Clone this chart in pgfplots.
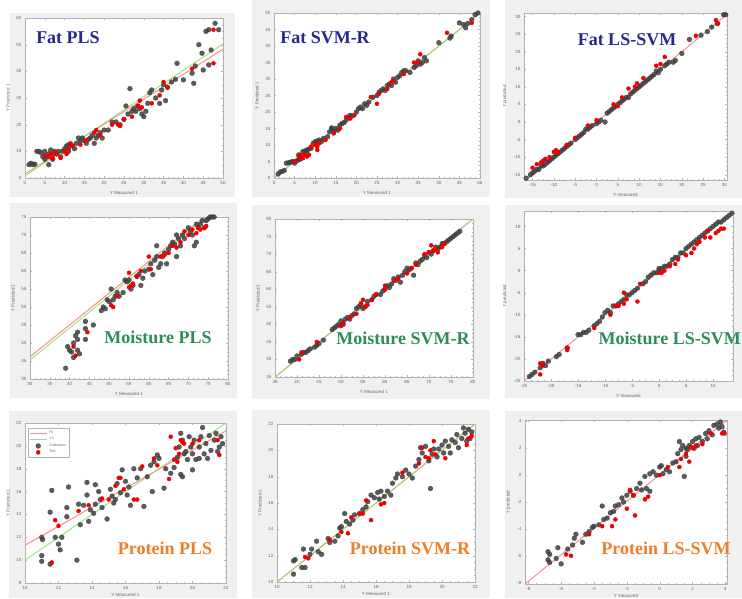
\documentclass[border=0pt]{standalone}
\usepackage{pgfplots}
\pgfplotsset{compat=1.18}
\usepackage{fontspec}
\setmainfont{Liberation Sans}
\newfontfamily\titlefont{Liberation Serif}
\definecolor{fitred}{RGB}{255,140,140}
\definecolor{onegreen}{RGB}{140,225,110}
\definecolor{calib}{RGB}{64,64,64}
\definecolor{testred}{RGB}{240,0,0}
\definecolor{figbg}{RGB}{240,240,240}
\definecolor{tblue}{RGB}{38,40,145}
\definecolor{tgreen}{RGB}{46,140,90}
\definecolor{torange}{RGB}{240,125,40}

\pgfplotsset{
  mat/.style={
    scale only axis, anchor=south west,
    axis background/.style={fill=white},
    axis line style={gray!60, line width=0.4pt},
    tick style={gray!60, line width=0.3pt},
    tick align=inside, major tick length=2pt, minor tick length=1pt,
    minor tick num=3,
    ticklabel style={font=\fontsize{4.5}{5}\selectfont, text=black!60},
    label style={font=\fontsize{4.5}{5}\selectfont, text=black!60},
    /pgf/number format/assume math mode=true,
    scaled ticks=false,
  },
  lowrow/.style={xlabel style={yshift=3pt}},
  fitline/.style={fitred, line width=1pt, no marks},
  oneline/.style={onegreen, line width=1pt, no marks, opacity=0.85},
  cal/.style={only marks, mark=*, mark size=2.4pt, calib, opacity=0.85},
  tst/.style={only marks, mark=*, mark size=2pt, testred},
}
\tikzset{ttl/.style={font=\titlefont\bfseries\fontsize{18}{20}\selectfont}}

\begin{document}
\begin{tikzpicture}[x=1pt,y=1pt]
\useasboundingbox (0,0) rectangle (742,598);
\clip (0,0) rectangle (742,598);
% figure window backgrounds
\fill[figbg] (10,401) rectangle (235,585);
\fill[figbg] (252,401) rectangle (490,598);
\fill[figbg] (505,400) rectangle (742,598);
\fill[figbg] (10,200) rectangle (237,395);
\fill[figbg] (252,199) rectangle (490,393);
\fill[figbg] (505,200) rectangle (742,393);
\fill[figbg] (9,0) rectangle (237,187);
\fill[figbg] (252,0) rectangle (490,188);
\fill[figbg] (505,0) rectangle (742,187);

% ---------- Fat PLS ----------
\begin{axis}[mat, at={(25pt,420pt)}, width=198pt, height=160pt,
  xmin=0, xmax=50, ymin=0, ymax=60, xtick={0,5,...,50}, ytick={0,10,...,60},
  xlabel={Y Measured 1}, ylabel={Y Predicted 1}]
\addplot[fitline] coordinates {(0,1.5) (50,48.3)};
\addplot[oneline] coordinates {(0,0.8) (50,50.3)};
\addplot[cal] coordinates {
(1,5)(1.5,5.5)(2,5)(2.5,5.2)(3,10)(3.5,10)(4,9.5)(4.5,8)(5,7)(5,10)(5.5,8)(6,5)(6,9)(6.5,10.5)
(7,9)(7,7)(7.5,10)(8,9)(8.5,10)(9,8)(9.5,10)(10,11)(10.5,12)(11,10)(11,12.5)(12,12)(12.5,11)
(13,13)(13.5,15)(14,14)(14.5,15)(15,14)(15.5,13)(16,14.5)(16.5,15)(17,16)(17.5,13)(18,15)
(18.5,16)(19,17)(19.5,15)(20,18)(21,18)(22,21)(23,21)(24,20)(25,22)(25.5,27)(26,24)(26.5,33.5)
(27,25)(27.5,26)(28,25)(28.5,27)(29,26)(29.5,24)(30,23)(30.5,25)(31,28)(31.5,32)(32,33)(33,30)
(34,28)(34.5,33)(35,35)(35.5,29)(36,34)(37,36)(38,37)(38.4,43)(40,36.8)(42.2,39.3)(42.6,35.5)
(43,42)(43.9,50)(44.7,46.8)(45,40.5)(45.7,55)(46.4,42.4)(46.4,55.6)(47,48)(48,58)(48.9,55.6)};
\addplot[tst] coordinates {
(5,8.5)(6,8)(6.5,9)(7,7.5)(7.5,9.5)(8,9)(9,7.5)(10,10)(10.5,9)(11,11)(11.5,13)(12,12)(14,12.5)
(15.5,14)(17.5,17)(18,18)(19,16)(22,20)(23.5,20)(24,19.5)(25,22)(27,23)(28.5,27)(29,29)
(29.5,26.5)(32,28)(34,31)(35,36)(36,34)(42.2,41)(47.6,43)(47.6,55.6)};
\end{axis}

% ---------- Fat SVM-R ----------
\begin{axis}[mat, at={(274pt,420pt)}, width=206pt, height=165pt,
  xmin=0, xmax=50, ymin=0, ymax=50, xtick={0,5,...,50}, ytick={0,5,...,50},
  xlabel={Y Measured 1}, ylabel={Y Predicted 1}]
\addplot[fitline] coordinates {(0,0) (50,50)};
\addplot[oneline] coordinates {(0,0) (50,50)};
\addplot[cal] coordinates {
(1,1.2)(1.5,1.8)(2,2)(2.5,2.3)(3,4.5)(3.5,4.6)(4,4.8)(4.5,5)(5,4.5)(5.5,5.2)(6,5.5)(6,7)(6.5,5.8)
(7,8)(7.5,8.2)(8,8.5)(8,7.5)(8.5,8.8)(9,9)(9.5,10.5)(10,11)(10.5,11.2)(11,11.5)(11.5,11)(12,12)
(13,12.5)(13.5,14)(14,14.8)(14,15.2)(14.5,14)(15,15)(15.5,14.5)(16,16)(16.5,16.5)(17,16.8)
(17.5,17.5)(18,18.5)(18.5,19)(19,18.8)(20,20)(20.5,21)(21,21.5)(21.5,21)(22,22.5)(22.5,22)
(23,23)(24,24.5)(25,25)(25.5,26)(26,26.5)(26.5,27)(27,26.5)(27.5,28)(28,28.5)(28.5,28)(29,30)
(29.5,29)(30,30.5)(30.5,31)(31,32)(31.5,32.5)(32,32.5)(33,32)(34,33.5)(34.5,34)(35,35.5)
(35.5,34.5)(36,35)(36.5,36.5)(37,35.5)(40,41)(42.7,42.4)(43,43)(45,47)(46,46.5)(46.5,45.5)
(47,46.8)(48,48)(48.8,49.5)(49.5,50)};
\addplot[tst] coordinates {
(5,5)(6,6.5)(6.5,7)(7,6)(7.5,7)(8,6.5)(8.5,7)(9,9.5)(10,10)(10.5,8.5)(10.5,9.5)(11,10.5)
(12.5,11.5)(14.5,13.5)(16,15)(17.5,18.5)(18.5,18)(19.5,19)(23.5,24.5)(25,22.5)(25.5,25.5)
(27.5,27)(28.5,29)(29,29.5)(31.5,31.5)(34,35)(35,35)(35.5,37.5)(42,44)(48,47)};
\end{axis}

% ---------- Fat LS-SVM ----------
\begin{axis}[mat, at={(524pt,418pt)}, width=203pt, height=167pt,
  xmin=-17, xmax=30.6, ymin=-16.5, ymax=31, xtick={-15,-10,...,30}, ytick={-15,-10,...,30},
  xlabel={Y measured}, ylabel={Y predicted}]
\addplot[fitline] coordinates {(-17,-17) (31,31)};
\addplot[cal] coordinates {
(-16.5,-16)(-15.5,-15)(-15,-14.5)(-14.5,-14)(-14,-13.5)(-13.5,-13.5)(-13,-12.5)(-12.5,-12.5)
(-12,-12)(-11.5,-11.5)(-11,-11)(-10.5,-10.5)(-10,-10)(-9.5,-9.5)(-9,-9)(-8.5,-8.5)(-8,-8)
(-7.5,-7.5)(-7,-7)(-6.5,-6.5)(-6,-6)(-5,-5)(-4.5,-4.5)(-4,-4)(-3.5,-3.5)(-3,-3)(-2.5,-2)(-2,-2)
(-1.5,-1.5)(-1,-1)(0,-0.5)(0.5,0)(1,0.5)(2,0)(2.5,2.5)(3,3)(3.5,3.5)(4,4)(4.5,4.5)(5,5)(5.5,5.5)
(6,6)(6.5,6.5)(7,7)(7.5,7)(8,8)(8.5,8.5)(9,9)(9.5,9.5)(10,10)(10.5,10.5)(11,11)(11.5,11.5)
(12,12)(12.5,12.5)(13,13)(13.5,13.5)(14,14.5)(14.5,14)(15,15)(16,16)(16.5,16.5)(17,17)
(18,17)(18.5,17.5)(20,19.5)(21.8,23.5)(24.5,24.7)(26,25.7)(27,27)(28.3,28)(29.8,30.5)(30.3,30.5)};
\addplot[tst] coordinates {
(-15,-13)(-14,-12)(-13,-11.5)(-12.5,-11)(-12,-10.5)(-11,-10)(-10,-8.5)(-9.5,-8)(-9,-8.5)
(-7,-6.5)(-5,-4.5)(-2,-1)(0,0.5)(4,5)(5,4.5)(6,7)(7.5,9.5)(9,10)(9.5,11)(11,12.5)(14,16)
(15,16.5)(16,18.5)(23.3,24.5)(28,29)(28.5,28)};
\end{axis}

% ---------- Moisture PLS ----------
\begin{axis}[mat, at={(30pt,219pt)}, width=198pt, height=162pt,
  xmin=30, xmax=80, ymin=30, ymax=75, xtick={30,35,...,80}, ytick={30,35,...,75},
  xlabel={Y Measured 1}, ylabel={Y Predicted 1}]
\addplot[fitline] coordinates {(30,36.2) (80,80.3)};
\addplot[oneline] coordinates {(30,35.3) (80,79.7)};
\addplot[cal] coordinates {
(39,33)(39.5,39)(40,38)(40.5,37.5)(41,36)(41.5,42)(41,40)(42,38)(42,41)(42.5,37)(42,43)(44,41)
(44,46)(44,44)(46,45)(48,49)(48.5,50)(49,49.5)(49.5,52)(50,51.5)(50.5,55)(51,52)(51.5,53)
(52,54)(52.5,53)(53.5,54)(54,57.5)(54.5,57)(55,57.5)(55.5,55)(56,56)(57,58.5)(57.5,59)(58,56)
(58.5,58)(59,60)(60,60.5)(60.5,62)(61,59)(61.5,63)(62,67)(62,64)(62.5,61)(63,62)(63.5,64)
(64,65)(64.5,62)(65,66)(65.5,67)(66,68)(66.5,67.5)(67,70)(67,64)(67.5,69)(68,67)(68.5,70)
(69,69)(70,72)(70.5,71)(71,70)(71.5,67)(72,73)(72,68)(72.5,72)(73,73)(73.5,74)(74,72)
(74.5,74)(75,74.5)(75.5,75)(76,75)(76.5,75)};
\addplot[tst] coordinates {
(41,39)(41.5,36.5)(44.5,43)(50.5,50.5)(51,50)(52,53)(55,59.5)(55,55.5)(55.5,56)(56,56.5)
(57,58.5)(58,60)(60,64)(60.5,60.5)(63,64)(64,64.5)(65,65)(66,67)(67,66.5)(68,68)(69,71)
(70,70)(71,71.5)(72,70.5)(72.5,72)(73,71.5)(74,72)(74.5,72.5)};
\end{axis}

% ---------- Moisture SVM-R ----------
\begin{axis}[mat, at={(275pt,221pt)}, width=198pt, height=158pt,
  xmin=35, xmax=80, ymin=35, ymax=80, xtick={35,40,...,80}, ytick={35,40,...,80},
  xlabel={Y Measured 1}, ylabel={Y Predicted 1}]
\addplot[fitline] coordinates {(35,35) (80,80)};
\addplot[oneline] coordinates {(35,35) (80,80)};
\addplot[cal] coordinates {
(38.5,39.5)(39,40)(39.5,40)(40,41)(41,41.5)(41.5,42)(42,42)(42.5,42.5)(43,43)(44,43.5)
(44.5,44)(45,44.5)(46,45.5)(48,48.5)(48.5,49)(49,49.5)(49.5,50)(50,51)(50.5,50)(51,51.5)
(51.5,52)(52,51.5)(52.5,52.5)(53,53)(53.5,54.5)(54,55)(54.5,55.5)(55,54.5)(55.5,55)(56,56.5)
(57,57)(57.5,58)(58,58.5)(59,58.5)(59.5,59.5)(60,60)(60.5,61)(61,60.5)(61.5,61.5)(62,63)
(62.5,62.5)(63,63.5)(63.5,62)(64,64)(64.5,65)(65,66)(65.5,65.5)(66,66)(66.5,64)(67,67.5)
(67.5,67)(68,68)(68.5,68.5)(69,69.5)(69.5,69)(70,70.5)(70.5,70)(71,71)(71.5,72)(72,71.5)
(72.5,72)(73,73)(73.5,73)(74,73.5)(74.5,74)(75,74.5)(75.5,75)(76,75.5)(76.5,76)(77,76.5)};
\addplot[tst] coordinates {
(40.5,40)(41,42)(44.5,45)(50,49.5)(50.5,50.5)(52,52)(53.5,53)(54.5,56)(55,57)(55.5,55)
(56,55.5)(57,57)(58,58.5)(60,60)(60,61)(62,62.5)(63,63)(65,64.5)(66,66)(67,67)(69,70)
(70,70.5)(70.5,72.5)(71,71)(71.5,71.5)(72,70.5)(73,72)(73.5,73)};
\end{axis}

% ---------- Moisture LS-SVM ----------
\begin{axis}[mat, at={(524pt,217pt)}, width=209pt, height=170pt,
  xmin=-25, xmax=13.7, ymin=-25, ymax=13.5, xtick={-25,-20,...,10}, ytick={-25,-20,...,10},
  xlabel={Y measured}, ylabel={Y predicted}]
\addplot[fitline] coordinates {(-25,-25) (13.7,13.5)};
\addplot[cal] coordinates {
(-24,-24)(-23.5,-23.5)(-23,-23)(-22,-22)(-21.5,-21)(-21,-21.5)(-20.5,-20.5)(-19,-19.5)
(-18.5,-19)(-17,-17.5)(-15,-14.5)(-14.5,-14.5)(-14,-14)(-13.5,-14)(-13,-13.5)(-12,-12.5)
(-11.5,-12)(-11,-11.5)(-10.5,-10.5)(-10,-9.5)(-9.5,-9)(-9,-9.5)(-8.5,-8)(-8,-8)(-7.5,-7.5)
(-7,-7)(-6.5,-6.5)(-6,-5.5)(-5.5,-5.5)(-5,-5)(-4.5,-4.5)(-4,-4)(-3,-3)(-2.5,-2.5)(-2,-1.5)
(-1.5,-1)(-1,-0.5)(-0.5,-0.5)(0,0)(0,0.5)(0.5,0.5)(1,1)(1.5,1)(2,1.5)(2.5,2.5)(3,3)(3.5,3)
(4,4)(4.5,4)(5,5)(5.5,5.5)(6,6)(6.5,6.5)(7,7)(7.5,7.5)(8,8)(8.5,8.5)(9,9)(9.5,9.5)(10,10)
(10.5,10.5)(11,11)(11.5,11)(12,11.5)(12.5,12)(13,12.5)(13.5,13)};
\addplot[tst] coordinates {
(-22,-21)(-22,-23.5)(-21.5,-21.5)(-17,-17.5)(-17,-18)(-12,-13)(-9,-10)(-8,-8)(-7.5,-8)
(-6.5,-5)(-6.5,-7.5)(-6,-6.5)(-4,-7)(-3.5,-3)(0,-0.5)(0.5,-0.5)(1,0)(2,1)(3,1.5)(3.5,2.5)
(5,3.5)(6,4)(6.5,5)(7,6)(7.5,6.5)(8.5,7.5)(9,9)(9.5,7.5)(10.5,8.5)(11,9)(11.5,9.5)(12,9.5)};
\end{axis}

% ---------- Protein PLS ----------
\begin{axis}[mat, lowrow, at={(25pt,15pt)}, width=201pt, height=160pt,
  xmin=10, xmax=22, ymin=8, ymax=22, xtick={10,12,...,22}, ytick={8,10,...,22},
  xlabel={Y Measured 1}, ylabel={Y Predicted 1},
  legend style={at={(0.015,0.97)}, anchor=north west, draw=gray!60,
    font=\fontsize{3.5}{4}\selectfont, text=black!60, inner sep=1pt, row sep=-1.5pt},
  legend cell align=left]
\addplot[fitline] coordinates {(10,11.3) (22,21.3)};
\addlegendentry{Fit}
\addplot[oneline] coordinates {(10,10) (22,22)};
\addlegendentry{1:1}
\addplot[cal] coordinates {
(11,12)(11.05,11.8)(11,10.4)(11,9.9)(11.5,9.65)(11.6,16.1)(11.5,14.2)(11.8,12)(12,11.4)
(12.2,12)(12.1,10.9)(12.5,13.8)(12.5,14.6)(12.6,16.4)(13.2,14.9)(13.3,13.1)(13.1,10)(13.5,14.8)
(13.7,16.8)(13.7,15.7)(13.8,13.4)(13.9,14.4)(14.2,14.9)(14.1,14.1)(14.2,16.6)(14.4,16)
(14.5,15.3)(14.6,14.6)(14.9,13.6)(15.1,16.2)(15.2,15.6)(15.3,15)(15.4,15.3)(15.5,16.7)
(15.7,15.9)(15.8,17.9)(16,16.9)(16.1,15.7)(16.2,16.4)(16.3,14.8)(16.5,18)(16.7,17.2)
(17.1,14.7)(16.9,18)(17.3,17.3)(17.5,18.3)(17.7,18.6)(17.9,19.2)(18,18.9)(17.6,16)(18.3,16.3)
(18.4,18)(18.7,17.6)(18.9,18.1)(19.1,19)(19.2,19.9)(19.3,21.1)(19.4,20.5)(19.6,19.5)
(19.7,18.8)(19.8,20.8)(19.9,19.9)(20,19.3)(20.1,20.5)(20.2,18.8)(20.4,19.9)(20.5,20.8)
(20.6,21.6)(20.7,19.3)(20.8,20.2)(21,20.9)(21.1,19.6)(21.3,20.5)(21.4,21.1)(21.5,19.5)
(21.6,19.9)(21.8,20.2)(21.7,20.8)(19.3,17.5)(19.4,17.3)(19.5,19.3)(20,17.9)(20.4,18.9)(20.9,18.9)};
\addlegendentry{Calibration}
\addplot[tst] coordinates {
(11.8,13.5)(12,13)(11.6,9.8)(13.2,14.3)(13.8,14.8)(14.6,15.4)(15,15.3)(15.4,16.5)(15.6,17.2)
(15.7,17.2)(15.9,16.2)(16.5,15.3)(16.7,15.3)(17,18.2)(17.7,18.9)(17.9,18.3)(18.6,17.1)
(18.7,20.8)(19,19.8)(19.2,19.3)(19.3,20.5)(19.4,20.3)(19.1,18.6)(19.5,20.2)(20,20.2)
(20.4,20.5)(21.5,20.5)(21.6,19.2)(18.9,18.8)};
\addlegendentry{Test}
\end{axis}

% ---------- Protein SVM-R ----------
\begin{axis}[mat, lowrow, at={(277pt,16pt)}, width=198pt, height=158pt,
  xmin=10, xmax=22, ymin=10, ymax=22, xtick={10,12,...,22}, ytick={10,12,...,22},
  xlabel={Y Measured 1}, ylabel={Y Predicted 1}]
\addplot[fitline] coordinates {(10,10) (22,22)};
\addplot[oneline] coordinates {(10,10) (22,22)};
\addplot[cal] coordinates {
(11,10.6)(11,11.6)(11.1,11.7)(11.5,11.1)(11.6,12.5)(11.7,11.1)(12,12.1)(12.1,12.5)(12.4,13.1)
(12.5,12.3)(12.7,12.1)(13.1,13.3)(13.2,13)(13.5,13.1)(13.7,13.5)(13.8,14.1)(13.9,14.2)
(14.1,15.2)(14.2,14.6)(14.4,14.4)(14.6,14.7)(14.7,15.1)(15,15.2)(15.2,15.5)(15.4,15.7)
(15.5,16.1)(15.7,16.6)(15.9,16.4)(16.1,16.8)(16.2,16.3)(16.3,16.9)(16.5,16.5)(16.7,16.9)
(16.9,16.6)(17,17.5)(17.2,17.9)(17.3,18.2)(17.6,18)(17.8,18.5)(18,18.2)(18.2,17.9)(18.4,18.8)
(18.6,19.3)(18.7,20.2)(18.8,19.8)(19,20.3)(19.2,19.2)(19.4,19.7)(19.5,20.1)(19.3,17.1)
(19.7,19.5)(19.8,20.1)(20,20.4)(20.1,19.8)(20.2,20.7)(20.4,20.3)(20.5,19.8)(20.6,20.8)
(20.8,20.6)(20.9,21.2)(21,20.2)(21.2,20.9)(21.3,21.7)(21.4,21.3)(21.5,20.7)(21.6,21.6)
(21.7,20.9)(21.8,21.4)};
\addplot[tst] coordinates {
(11.7,11.9)(11.9,11.8)(13.2,13.2)(13.9,13.8)(14.3,13.7)(14.5,14.9)(15,15.2)(15.2,15.2)
(15.7,14.7)(15.4,16.2)(16.3,15.9)(16.5,16)(17.6,18.3)(18.6,19)(18.8,20.2)(19,19.5)(19.2,19.4)
(19.3,20)(19.5,20.7)(19.6,19.7)(20.2,19.4)(21.6,20.9)(21.5,20.4)(21.8,21.1)};
\end{axis}

% ---------- Protein LS-SVM ----------
\begin{axis}[mat, lowrow, at={(525pt,14pt)}, width=202pt, height=164pt,
  xmin=-8.2, xmax=4.1, ymin=-8.1, ymax=4.1, xtick={-8,-6,...,4}, ytick={-8,-6,...,4},
  xlabel={Y measured}, ylabel={Y predicted}]
\addplot[fitline] coordinates {(-8.2,-8.1) (4.1,4.1)};
\addplot[cal] coordinates {
(-6.8,-5.7)(-6.7,-5.9)(-6.8,-6.3)(-6.7,-6.5)(-6.3,-6.2)(-6.2,-5.4)(-6,-6.6)(-5.6,-5.5)
(-5.3,-5.2)(-5.2,-4.7)(-5.1,-4.4)(-4.7,-5)(-4.5,-4.4)(-4.3,-4.2)(-4.1,-3.9)(-4,-3.8)
(-3.7,-3.7)(-3.5,-2.3)(-3.4,-3.3)(-3.2,-3.2)(-3,-2.8)(-2.8,-2.7)(-2.7,-2.3)(-2.5,-2.2)
(-2.3,-1.7)(-2.2,-2)(-2,-1.5)(-1.8,-1.2)(-1.6,-1.5)(-1.4,-1)(-1.2,-0.6)(-1.1,-1.1)(-0.8,-1)
(-0.6,-1.2)(-0.9,-0.1)(-0.6,0.1)(-0.4,0.25)(-0.2,0)(0,0.6)(0.1,0.7)(0.2,0.1)(0.4,0.4)
(0.6,0.25)(0.8,0.9)(1,1)(1.1,1.6)(1.3,1.9)(1.4,2.2)(1.5,-0.1)(1.6,1.4)(1.7,1.9)(1.8,2.2)
(2,2.5)(2.1,2)(2.2,2.7)(2.3,2.2)(2.4,2.8)(2.6,2.5)(2.8,3.1)(2.9,2.7)(3,3.3)(3.2,3)(3.3,3.7)
(3.5,3.8)(3.6,3.5)(3.7,3.95)(3.8,3.6)(3.9,3.2)(1.2,2.5)(1.6,2)};
\addplot[tst] coordinates {
(-5.7,-5.9)(-5.4,-6)(-4.3,-4.4)(-3.5,-3.8)(-2.9,-3.8)(-2.7,-3.3)(-2,-2.5)(-1.8,-1.1)
(-1.6,-1.5)(-1.5,-3)(-0.9,-1.8)(-0.7,-1.6)(0,0)(0.5,0.6)(1.2,0.6)(1.3,1.2)(1.6,1.6)(1.8,1)
(1.9,2.1)(2,2)(2.2,2.2)(2.6,2.3)(3.1,3.1)(3.8,3.1)(3.95,3.1)};
\end{axis}

% panel titles
\node[ttl, text=tblue] at (68,560) {Fat PLS};
\node[ttl, text=tblue] at (325,560) {Fat SVM-R};
\node[ttl, text=tblue] at (627,558) {Fat LS-SVM};
\node[ttl, text=tgreen] at (158,261) {Moisture PLS};
\node[ttl, text=tgreen] at (403,260) {Moisture SVM-R};
\node[ttl, text=tgreen, anchor=east, inner sep=0pt] at (741,260) {Moisture LS-SVM};
\node[ttl, text=torange] at (165,50) {Protein PLS};
\node[ttl, text=torange] at (410,50) {Protein SVM-R};
\node[ttl, text=torange] at (666,50) {Protein LS-SVM};
\end{tikzpicture}
\end{document}
